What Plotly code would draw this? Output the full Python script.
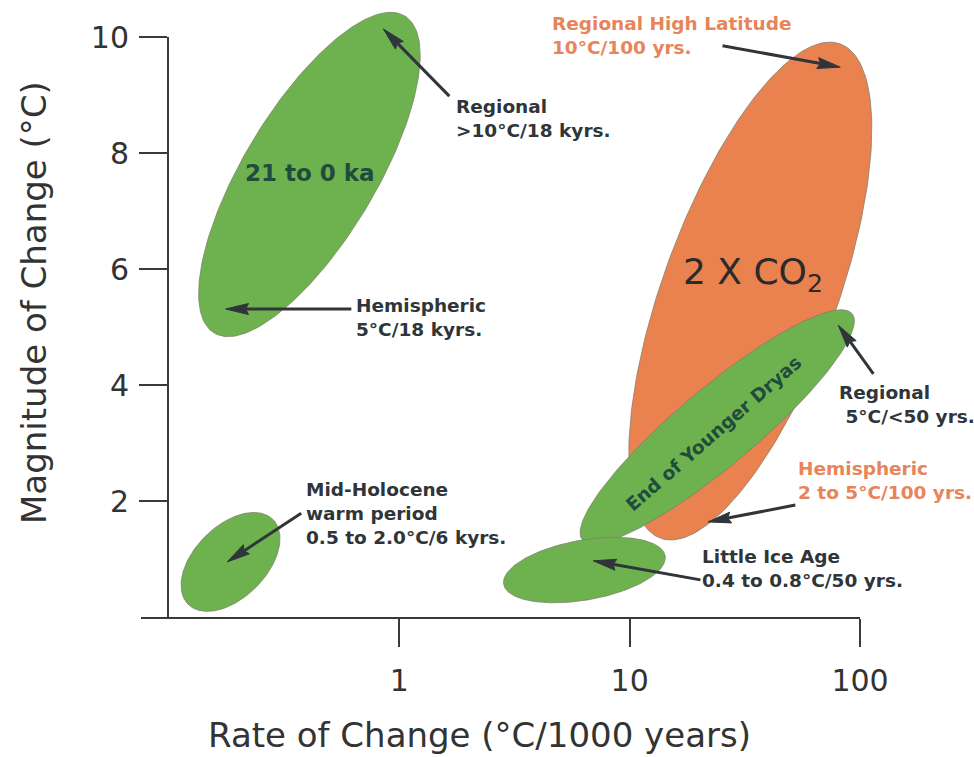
import numpy as np
import plotly.graph_objects as go

# ---------------------------------------------------------------- data
# Climate-change regions: centre of each region (rate in °C/1000 yr, magnitude in °C)
region_keys = ["co2", "glacial", "holocene", "dryas", "lia"]
region_rate = [33.4, 0.407, 0.185, 24.0, 6.36]
region_mag = [5.62, 7.63, 0.95, 3.28, 0.81]

# Labels inside regions
inner_text = ["2 X CO<sub>2</sub>", "21 to 0 ka", "End of Younger Dryas"]
inner_rate = [34.4, 0.411, 23.1]
inner_mag = [5.91, 7.66, 3.17]

# Call-out labels
callout_text = [
    "Regional<br>&gt;10°C/18 kyrs.",
    "Hemispheric<br>5°C/18 kyrs.",
    "Mid-Holocene<br>warm period<br>0.5 to 2.0°C/6 kyrs.",
    "Regional High Latitude<br>10°C/100 yrs.",
    "Regional<br>\u00a05°C/&lt;50 yrs.",
    "Hemispheric<br>2 to 5°C/100 yrs.",
    "Little Ice Age<br>0.4 to 0.8°C/50 yrs.",
]
callout_rate = [1.733, 0.638, 0.387, 4.525, 79.7, 52.9, 20.27]
callout_mag = [8.60, 5.16, 1.79, 10.03, 3.66, 2.35, 0.83]
callout_orange = [False, False, False, True, False, True, False]

# Arrows: tail (near label) -> tip (inside region)
arrow_tail_rate = [1.648, 0.619, 0.375, 25.3, 114.3, 52.4, 20.3]
arrow_tail_mag = [8.98, 5.31, 1.79, 9.85, 4.19, 1.93, 0.64]
arrow_tip_rate = [0.852, 0.176, 0.179, 82.1, 80.5, 21.9, 6.95]
arrow_tip_mag = [10.14, 5.31, 0.95, 9.48, 5.03, 1.64, 0.97]

x_tick_vals = [1, 10, 100]
x_tick_text = ["1", "10", "100"]
y_tick_vals = [2, 4, 6, 8, 10]
y_tick_text = ["2", "4", "6", "8", "10"]

# ---------------------------------------------------------------- layout geometry
W, H = 974, 757
PLOT_L, PLOT_R = 169, 860      # pixel span of x = 0.1 .. 100
PLOT_T, PLOT_B = 37, 617       # pixel span of y = 10 .. 0
TICK_LEN = 28
XLOG_MIN, XLOG_MAX = -1.0, 2.0
Y_MIN, Y_MAX = 0.0, 10.0
PX_DEC = (PLOT_R - PLOT_L) / (XLOG_MAX - XLOG_MIN)
PX_UNIT = (PLOT_B - PLOT_T) / (Y_MAX - Y_MIN)

# full-page drawing axes with the same scale as the visible axes
canvas_x = [XLOG_MIN - PLOT_L / PX_DEC, XLOG_MAX + (W - PLOT_R) / PX_DEC]
canvas_y = [Y_MIN - (H - PLOT_B) / PX_UNIT, Y_MAX + PLOT_T / PX_UNIT]

# region outline geometry: semi-axes (px) and tilt (deg)
region_shape = {
    "co2": (263, 87, 70),
    "glacial": (185, 66, 59),
    "holocene": (60, 36, 45),
    "dryas": (176, 39, 40),
    "lia": (82, 30, 10),
}
GREEN = "#6db24f"
ORANGE = "#e9824f"
region_fill = {"co2": ORANGE, "glacial": GREEN, "holocene": GREEN, "dryas": GREEN, "lia": GREEN}
OUTLINE = "rgba(125,125,105,0.75)"
DARK = "#2f3539"
DARK_GREEN = "#1f4c3c"
ORANGE_TEXT = "#e8845a"
AXIS = "#3a3a3a"


def to_screen(rate, mag):
    return np.log10(rate) * PX_DEC, np.asarray(mag) * PX_UNIT


def from_screen(u, v):
    return 10 ** (np.asarray(u) / PX_DEC), np.asarray(v) / PX_UNIT


fig = go.Figure()

# ---- regions
t = np.linspace(0, 2 * np.pi, 241)
for key, r, m in zip(region_keys, region_rate, region_mag):
    a, b, ang = region_shape[key]
    th = np.radians(ang)
    uc, vc = to_screen(r, m)
    u = uc + a * np.cos(t) * np.cos(th) - b * np.sin(t) * np.sin(th)
    v = vc + a * np.cos(t) * np.sin(th) + b * np.sin(t) * np.cos(th)
    xs, ys = from_screen(u, v)
    fig.add_trace(go.Scatter(
        x=xs, y=ys, mode="lines", fill="toself", fillcolor=region_fill[key],
        line=dict(color=OUTLINE, width=1), hoverinfo="skip", showlegend=False,
        xaxis="x", yaxis="y",
    ))

# ---- arrows
HEAD_LEN, HEAD_HW, SHAFT_W = 23, 5.5, 3
for tr, tm, hr, hm in zip(arrow_tail_rate, arrow_tail_mag, arrow_tip_rate, arrow_tip_mag):
    tu, tv = to_screen(tr, tm)
    hu, hv = to_screen(hr, hm)
    d = np.array([hu - tu, hv - tv])
    d = d / np.hypot(*d)
    n = np.array([-d[1], d[0]])
    base = np.array([hu, hv]) - d * HEAD_LEN
    notch = base + d * 3
    sx, sy = from_screen([tu, notch[0]], [tv, notch[1]])
    fig.add_trace(go.Scatter(
        x=sx, y=sy, mode="lines", line=dict(color=DARK, width=SHAFT_W),
        hoverinfo="skip", showlegend=False, xaxis="x", yaxis="y",
    ))
    pu = [hu, base[0] + n[0] * HEAD_HW, notch[0], base[0] - n[0] * HEAD_HW, hu]
    pv = [hv, base[1] + n[1] * HEAD_HW, notch[1], base[1] - n[1] * HEAD_HW, hv]
    px_, py_ = from_screen(pu, pv)
    fig.add_trace(go.Scatter(
        x=px_, y=py_, mode="lines", fill="toself", fillcolor=DARK,
        line=dict(color=DARK, width=1), hoverinfo="skip", showlegend=False,
        xaxis="x", yaxis="y",
    ))

# invisible point so the framed axes are laid out
fig.add_trace(go.Scatter(x=[1], y=[5], mode="markers", marker=dict(opacity=0),
                         hoverinfo="skip", showlegend=False, xaxis="x2", yaxis="y2"))

annotations = []
# text inside regions
inner_fonts = [
    dict(family="DejaVu Sans", size=36, color="#2a2a2a"),
    dict(family="DejaVu Sans", size=23, color=DARK_GREEN, weight="bold"),
    dict(family="DejaVu Sans", size=18.5, color=DARK_GREEN, weight="bold"),
]
inner_angles = [0, 0, -41]
for txt, r, m, f, ang in zip(inner_text, inner_rate, inner_mag, inner_fonts, inner_angles):
    annotations.append(dict(
        x=np.log10(r), y=m, xref="x", yref="y", text=txt, showarrow=False,
        font=f, textangle=ang, xanchor="center", yanchor="middle",
    ))

for txt, r, m, orange in zip(callout_text, callout_rate, callout_mag, callout_orange):
    annotations.append(dict(
        x=np.log10(r), y=m, xref="x", yref="y", text=txt, showarrow=False,
        align="left", xanchor="left", yanchor="middle",
        font=dict(family="DejaVu Sans", size=18.5, weight="bold",
                  color=ORANGE_TEXT if orange else DARK),
    ))

# axis titles
annotations.append(dict(
    x=479 / W, y=1 - 735 / H, xref="paper", yref="paper",
    text="Rate of Change (°C/1000 years)", showarrow=False,
    xanchor="center", yanchor="middle",
    font=dict(family="DejaVu Sans", size=34, color="#333333"),
))
annotations.append(dict(
    x=34 / W, y=1 - 303 / H, xref="paper", yref="paper",
    text="Magnitude of Change (°C)", showarrow=False, textangle=-90,
    xanchor="center", yanchor="middle",
    font=dict(family="DejaVu Sans", size=34, color="#333333"),
))

# unlabelled zero tick on the magnitude axis (extends the rate axis line)
shapes = [dict(
    type="line", xref="paper", yref="paper",
    x0=(PLOT_L - TICK_LEN) / W, x1=PLOT_L / W,
    y0=1 - (PLOT_B + 1) / H, y1=1 - (PLOT_B + 1) / H,
    line=dict(color=AXIS, width=2),
)]

tick_font = dict(family="DejaVu Sans", size=30, color="#333333")
fig.update_layout(
    template="none",
    width=W, height=H, autosize=False,
    margin=dict(l=0, r=0, t=0, b=0, pad=0, autoexpand=False),
    paper_bgcolor="white", plot_bgcolor="rgba(0,0,0,0)",
    showlegend=False,
    xaxis=dict(type="log", range=canvas_x, domain=[0, 1], visible=False,
               fixedrange=True, automargin=False),
    yaxis=dict(range=canvas_y, domain=[0, 1], visible=False,
               fixedrange=True, automargin=False),
    xaxis2=dict(
        type="log", range=[XLOG_MIN, XLOG_MAX], domain=[PLOT_L / W, PLOT_R / W],
        anchor="y2", showline=True, linecolor=AXIS, linewidth=2,
        ticks="outside", ticklen=TICK_LEN, tickwidth=2, tickcolor=AXIS,
        tickmode="array", tickvals=x_tick_vals, ticktext=x_tick_text,
        tickfont=tick_font, showgrid=False, zeroline=False, fixedrange=True,
        ticklabelstandoff=8, automargin=False,
    ),
    yaxis2=dict(
        range=[Y_MIN, Y_MAX], domain=[1 - PLOT_B / H, 1 - PLOT_T / H],
        anchor="x2", showline=True, linecolor=AXIS, linewidth=2,
        ticks="outside", ticklen=TICK_LEN, tickwidth=2, tickcolor=AXIS,
        tickmode="array", tickvals=y_tick_vals, ticktext=y_tick_text,
        tickfont=tick_font, showgrid=False, zeroline=False, fixedrange=True,
        ticklabelstandoff=4, automargin=False,
    ),
    shapes=shapes,
    annotations=annotations,
)

fig.write_html("out.html")
